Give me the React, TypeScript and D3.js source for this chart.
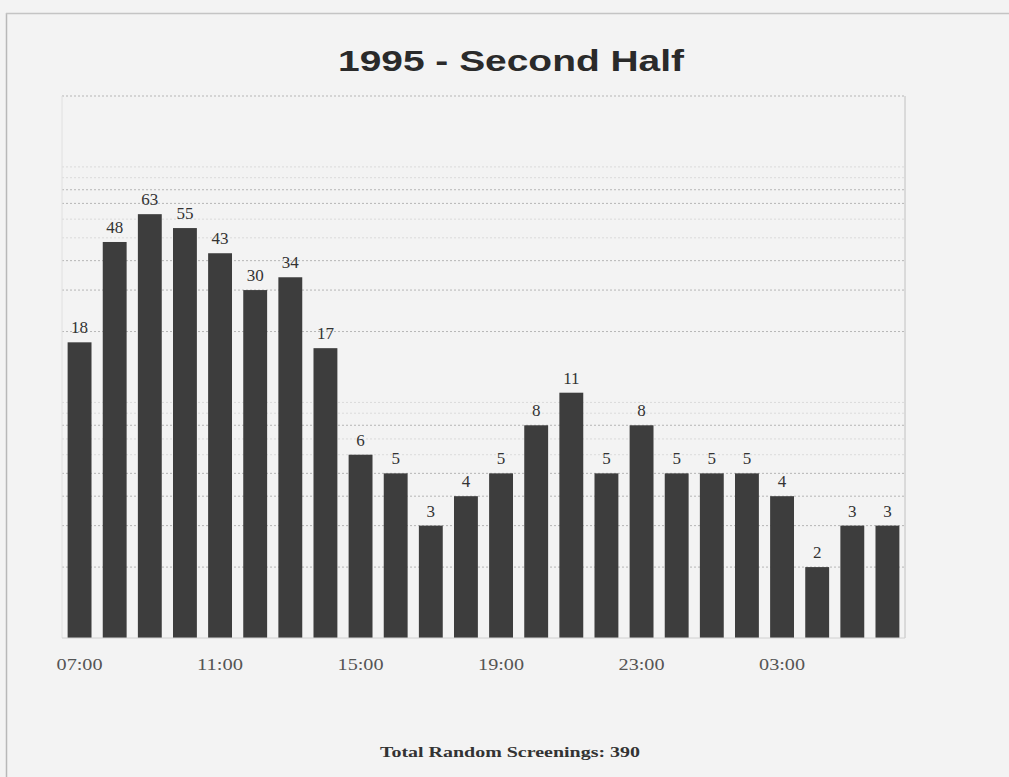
import React from "react";
import * as d3 from "d3";

const hours = ["07:00","08:00","09:00","10:00","11:00","12:00","13:00","14:00","15:00","16:00","17:00","18:00","19:00","20:00","21:00","22:00","23:00","00:00","01:00","02:00","03:00","04:00","05:00","06:00"];
const counts = [18,48,63,55,43,30,34,17,6,5,3,4,5,8,11,5,8,5,5,5,4,2,3,3];
const tickLabels = ["07:00","11:00","15:00","19:00","23:00","03:00"];
const gridValues = [2,3,4,5,6,7,8,9,10,20,30,40,50,60,70,80,90,100];
const strongGrid = [2,3,4,5,8,20,30,40,70,80];
const title = "1995 - Second Half";
const footer = "Total Random Screenings: 390";

export default function App() {
  const W = 1009, H = 777;
  const left = 62, right = 905, top = 96, bottom = 638;
  const x = d3.scaleBand<string>().domain(hours).range([left, right]).paddingInner(0.32).paddingOuter(0.16);
  const y = d3.scaleLog().domain([1, 200]).range([bottom, top]);
  const serif = "'Liberation Serif','Times New Roman',serif";
  return (
    <div style={{ position: "absolute", left: 0, top: 0 }}>
      <svg width={W} height={H} style={{ display: "block" }}>
        <rect x={0} y={0} width={W} height={H} fill="#f3f3f3" />
        <line x1={6.5} y1={13} x2={6.5} y2={H} stroke="#b8b8b8" strokeWidth={1.5} />
        <line x1={6} y1={13.5} x2={W} y2={13.5} stroke="#c4c4c4" strokeWidth={1.5} />
        <text x={511} y={71} textAnchor="middle" fontFamily="'Liberation Sans',Arial,sans-serif" fontWeight="bold" fontSize={29} fill="#2a2a2a" textLength={346} lengthAdjust="spacingAndGlyphs">{title}</text>
        {gridValues.map((v) => (
          <line key={v} x1={left} x2={right} y1={y(v)} y2={y(v)} stroke="#b0b0b0" strokeWidth={1} strokeDasharray="2,2" opacity={strongGrid.includes(v) ? 0.9 : 0.35} />
        ))}
        <line x1={left} x2={right} y1={top} y2={top} stroke="#b5b5b5" strokeDasharray="2,2" />
        <line x1={right} x2={right} y1={top} y2={bottom} stroke="#c0c0c0" />
        <line x1={left} x2={left} y1={top} y2={bottom} stroke="#e0e0e0" />
        {hours.map((h, i) => {
          const bx = x(h)!;
          const by = y(counts[i]);
          return (
            <g key={h}>
              <rect x={bx} y={by} width={x.bandwidth()} height={bottom - by} fill="#3d3d3d" />
              <text x={bx + x.bandwidth() / 2} y={by - 9} textAnchor="middle" fontFamily={serif} fontSize={17} fill="#333">{counts[i]}</text>
            </g>
          );
        })}
        <line x1={left} x2={right} y1={bottom} y2={bottom} stroke="#d0d0d0" />
        {tickLabels.map((t) => (
          <text key={t} x={x(t)! + x.bandwidth() / 2} y={670} textAnchor="middle" fontFamily={serif} fontSize={16} fill="#555" textLength={46} lengthAdjust="spacingAndGlyphs">{t}</text>
        ))}
        <text x={510} y={757} textAnchor="middle" fontFamily={serif} fontWeight="bold" fontSize={15} fill="#333" textLength={260} lengthAdjust="spacingAndGlyphs">{footer}</text>
      </svg>
    </div>
  );
}
